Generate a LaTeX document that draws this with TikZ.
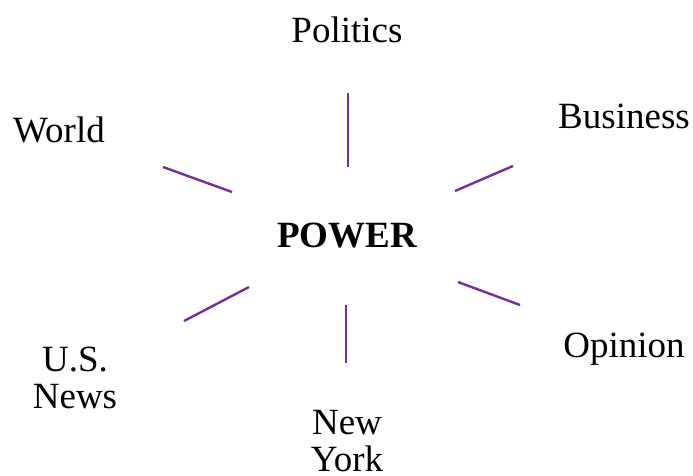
\documentclass[tikz,border=0pt]{standalone}
\usepackage{fontspec}
\setmainfont{Liberation Serif}
\definecolor{spoke}{HTML}{7030A0}
\begin{document}
\begin{tikzpicture}[x=1pt,y=-1pt,
  lbl/.style={inner sep=0pt,font=\fontsize{37}{37}\selectfont,text=black},
  spk/.style={draw=spoke,line width=2.4pt}]
\useasboundingbox (0,0) rectangle (693,475);
\node[lbl,anchor=base] (politics) at (347,42) {Politics};
\node[lbl,anchor=base] (world) at (59,142) {World};
\node[lbl,anchor=base] (business) at (624,128) {Business};
\node[lbl,anchor=base,font=\fontsize{37}{37}\selectfont\bfseries] (power) at (347,247) {POWER};
\node[lbl,anchor=base] (opinion) at (624,357) {Opinion};
\node[lbl,anchor=south,align=center] (usnews) at (75,409) {U.S.\\News};
\node[lbl,anchor=south,align=center] (newyork) at (347,472) {New\\York};
% spoke end points
\coordinate (p1) at (348,93);  \coordinate (p2) at (348,167);
\coordinate (b1) at (513,166); \coordinate (b2) at (455,191);
\coordinate (w1) at (163,167); \coordinate (w2) at (232,192);
\coordinate (o1) at (520,305); \coordinate (o2) at (458,282);
\coordinate (u1) at (184,321); \coordinate (u2) at (249,287);
\coordinate (n1) at (346,363); \coordinate (n2) at (346,305);
\draw[spk] (p1) -- (p2);
\draw[spk] (b1) -- (b2);
\draw[spk] (w1) -- (w2);
\draw[spk] (o1) -- (o2);
\draw[spk] (u1) -- (u2);
\draw[spk] (n1) -- (n2);
\end{tikzpicture}
\end{document}
